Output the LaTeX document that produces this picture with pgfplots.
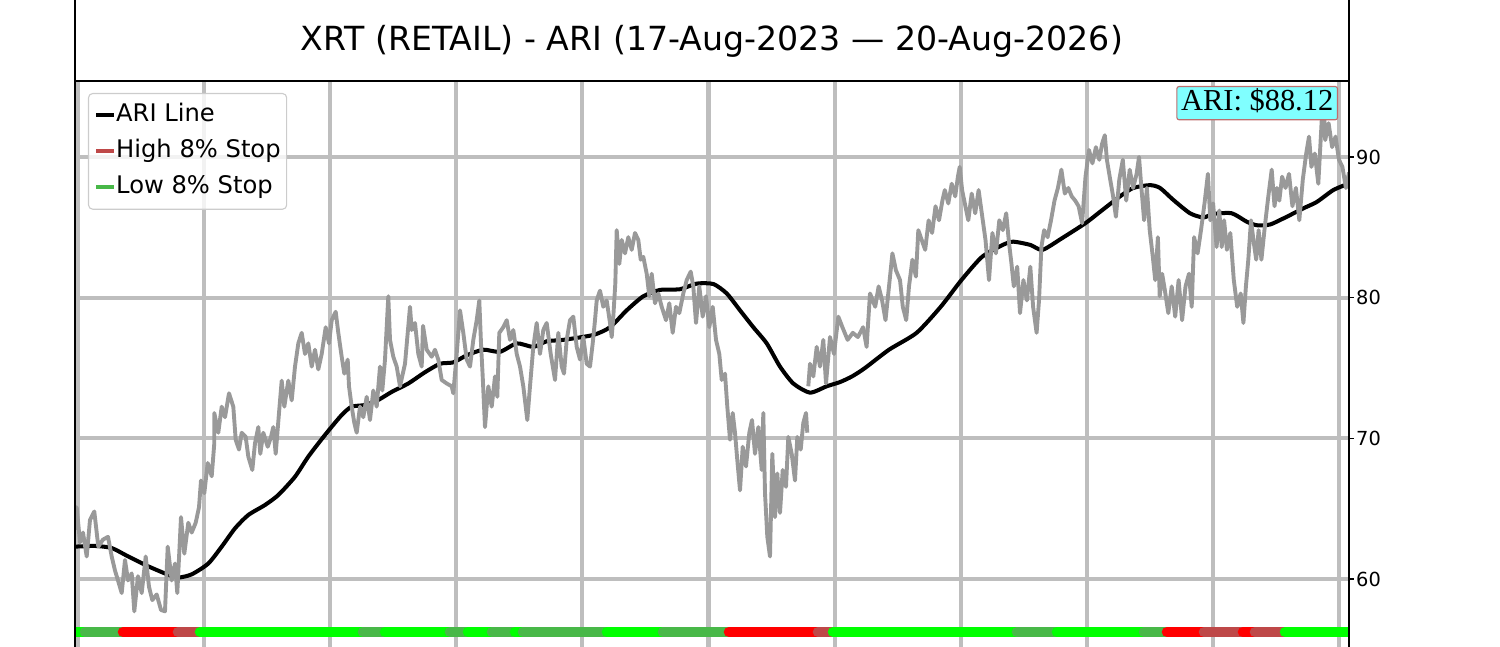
\documentclass[border=0pt]{standalone}
\usepackage{fontspec}
\setmainfont{DejaVu Sans}
\newfontfamily\serifnum{Liberation Serif}
\usepackage{pgfplots}
\pgfplotsset{compat=1.18}
\definecolor{medgreen}{RGB}{72,184,72}
\definecolor{brownred}{RGB}{190,72,72}
\definecolor{limec}{RGB}{0,255,0}
\definecolor{redc}{RGB}{255,0,0}
\definecolor{pricegray}{RGB}{153,153,153}
\definecolor{gridgray}{RGB}{190,190,190}
\definecolor{legedge}{RGB}{204,204,204}
\definecolor{labfill}{RGB}{128,255,255}
\definecolor{labedge}{RGB}{190,110,110}
\begin{document}
\begin{tikzpicture}
\begin{axis}[
  name=ax,
  at={(0,0)}, anchor=south west,
  scale only axis,
  width=917.28bp, height=414.72bp,
  xmin=75, xmax=1349,
  ymin=54.455, ymax=95.403,
  axis line style={draw=none},
  xtick={78,204.1,330.2,456.3,582.4,708.5,834.6,960.7,1086.8,1212.9,1339},
  xticklabels={},
  major x tick style={draw=none},
  ytick={60,70,80,90},
  ytick pos=right, yticklabel pos=right,
  tick align=outside,
  major tick length=3.5bp,
  major y tick style={black, line width=1bp},
  /pgf/number format/assume math mode=true,
  yticklabel style={font=\fontsize{14}{16}\selectfont, inner xsep=1.5bp},
  grid=major,
  major grid style={line width=2.9bp, color=gridgray},
  legend style={at={(axis description cs:0.0102,0.9792)}, anchor=north west,
    draw=legedge, line width=0.8bp, rounded corners=3bp, fill=white, fill opacity=0.8, text opacity=1,
    inner xsep=4bp, inner ysep=5.6bp, row sep=5.6bp,
    font=\fontsize{17.5}{20}\selectfont,
    nodes={inner xsep=0.3bp, inner ysep=1.5bp, text height=13.3bp, text depth=4bp}},
  legend cell align=left,
  legend image code/.code={\draw[#1, line width=2.9bp] (0bp,0bp) -- (12.7bp,0bp);},
]
% ARI line
\addplot[black, line width=2.9bp, smooth, tension=0.4] coordinates {
(75,62.3) (95,62.35) (111.7,62.2) (128.3,61.6) (148.3,60.9) (168.3,60.3) (178.3,60.1) (191.7,60.33)
(208.3,61.1) (221.7,62.3) (235,63.6) (248.3,64.55) (265,65.26) (278.3,65.97) (295,67.27) (308.3,68.7)
(325,70.24) (341.7,71.66) (351.7,72.25) (365,72.37) (378.3,72.73) (391.7,73.3) (408.3,73.9) (425,74.7)
(440,75.3) (453.3,75.4) (466.7,75.9) (483.3,76.3) (500,76.15) (516.7,76.75) (533.3,76.5) (546.7,76.9)
(563.3,77.0) (593.3,77.35) (610,77.9) (626.7,79.1) (643.3,80.1) (660,80.55) (680,80.6) (696.7,81.0)
(713.3,80.97) (726.7,80.3) (740,79.1) (753.3,77.9) (766.7,76.75) (780,75.1) (793.3,73.9) (810,73.25)
(826.7,73.7) (840,74.0) (852,74.4) (865,75.0) (889,76.3) (916.6,77.5) (940.7,79.35) (961.4,81.25)
(982,82.9) (1002.8,83.75) (1013.1,83.98) (1030.3,83.75) (1042.4,83.4) (1061.4,84.2) (1085.5,85.3)
(1100,86.1) (1120,87.2) (1133.3,87.8) (1150,88.0) (1160,87.8) (1173.3,86.95) (1190,86.0) (1203.3,85.7)
(1213.3,85.95) (1231.7,86.0) (1246.7,85.4) (1256.7,85.15) (1270,85.2) (1286.7,85.75) (1303.3,86.35)
(1316.7,86.8) (1333.3,87.65) (1349,88.12)
};
\addlegendentry{ARI Line}
\addlegendimage{brownred}
\addlegendentry{High 8\% Stop}
\addlegendimage{medgreen}
\addlegendentry{Low 8\% Stop}
% price
\addplot[forget plot, pricegray, line width=2.8bp, line join=round, unbounded coords=jump] coordinates {
(75,63.5) (76.7,65.1) (80,62.6) (83,63.3) (86.7,61.6) (90,64.2) (94.3,64.8) (98.3,62.3) (103,62.8) (108,63.0)
(111.7,61.6) (115,60.6) (118,59.9) (121.7,59.0) (125,61.35) (128,59.9) (131.7,60.4) (134.3,57.7) (138,60.2)
(141.7,59.0) (145.7,61.6) (149,59.45) (152.3,58.5) (156.7,58.9) (161,57.8) (165,57.7) (167.7,62.3) (171.7,59.9)
(175,61.1) (177.3,59.0) (181,64.4) (184.3,61.8) (188.3,64.0) (191.7,63.3) (195.7,64.0) (199,65.1) (201,67.0)
(204.3,66.1) (207.7,68.25) (211.7,67.3) (214.3,69.65) (214.3,71.8) (218.3,70.4) (221.7,72.25) (225,71.5)
(229,73.2) (233.3,72.25) (235.7,69.9) (239,69.2) (241.7,70.4) (245.7,70.1) (248.3,68.7) (252.3,67.75)
(255,69.65) (258.3,70.8) (260.3,68.9) (263.3,70.4) (267.7,69.4) (271,70.1) (273.3,70.8) (275.7,68.9)
(279,71.8) (281.7,74.1) (284.3,72.25) (288.3,74.1) (291.7,72.7) (295,75.1) (298.3,76.75) (301.7,77.5)
(305,76.0) (308.3,76.75) (311.7,75.1) (315,76.3) (318.3,74.9) (321.7,76.0) (325.7,77.9) (329,76.75)
(331.7,78.4) (335.7,79.0) (338.3,77.5) (341.7,75.8) (344.3,74.6) (347.7,75.6) (349,73.7) (351.7,72.25)
(354.3,71.1) (356.7,70.4) (360,72.25) (363.3,71.5) (366.7,72.95) (370,71.3) (373.3,73.4) (376.7,72.25)
(380,75.1) (382.3,73.4) (385,75.6) (388.3,80.1) (390,77.0) (393.3,75.8) (396.7,75.1) (400,73.7) (405,75.3)
(410,79.35) (411.7,77.7) (415,78.2) (418.3,76.0) (421.7,75.1) (423,78.0) (426.7,76.3) (431.7,75.8)
(435,76.3) (438.3,75.6) (441.7,74.15) (446.7,73.9) (451.7,73.7) (453.3,73.2) (456.7,76.0) (460,79.1)
(463.3,77.5) (466.7,75.6) (470,75.1) (473.3,77.0) (476.7,78.4) (479.3,79.8) (481,76.75) (482.7,74.4)
(485,70.8) (488.3,73.7) (491.7,72.25) (495,74.4) (497.3,72.95) (499.3,77.5) (503.3,77.9) (506.7,78.4)
(510,77.0) (513.3,77.7) (516.7,76.0) (520,75.1) (523.3,73.7) (527.3,71.3) (530,73.7) (533.3,76.5)
(536.7,78.2) (540,76.0) (543.3,77.7) (546.7,78.2) (550.7,76.0) (555,74.15) (558.3,77.5) (561.7,75.1)
(564,74.6) (566.7,77.0) (570,78.4) (573.3,78.65) (576.7,76.5) (580,75.6) (583.3,77.2) (586.7,75.3)
(590,75.1) (592.7,76.75) (595,78.4) (596.7,79.8) (600,80.5) (603.3,79.35) (606.7,79.8) (610,78.2)
(611.7,77.2) (613.3,78.65) (615.3,81.0) (616.7,84.8) (619.3,82.4) (621.7,84.1) (625,83.15) (628.3,84.3)
(631.7,83.4) (635,84.6) (638.3,84.1) (640.7,82.7) (643.3,82.9) (646.7,81.7) (649.3,80.1) (651.7,81.7)
(655,79.6) (658.3,80.3) (661.7,79.35) (666,78.4) (669.3,79.6) (672.7,77.5) (676,79.35) (679.3,78.9)
(683.3,80.3) (686.7,81.25) (690.7,81.85) (693.3,80.8) (696,78.2) (699.3,80.8) (702.7,78.65) (706,80.1)
(709.3,77.9) (712.7,79.35) (716,77.0) (719.3,76.0) (721.7,74.15) (725,74.6) (727.3,72.25) (730,69.9)
(732.7,71.8) (735,70.4) (737.3,68.45) (740,66.3) (742.7,69.4) (746,68.0) (749.3,70.4) (752,71.3)
(755,68.9) (758.3,70.8) (761.7,67.75) (763.3,71.8) (765,66.1) (767.3,63.0) (770,61.6) (772.3,68.9)
(775,64.4) (777.3,67.5) (780,64.7) (782.7,67.75) (786,66.55) (788.3,70.1) (791.7,68.9) (795,67.0)
(797.3,70.1) (800.7,69.2) (803.3,71.1) (806,71.8) (807.3,70.4) (808,nan)
(808.3,73.7) (810,75.3) (813.3,74.4) (816.7,76.5) (820,75.1) (823.3,77.0) (826,73.9) (830,77.2)
(834,76.0) (838.3,78.65) (842.4,77.9) (847.6,77.0) (852.8,77.5) (857.9,77.2) (863.1,77.9) (866.6,76.5)
(870,80.3) (875.2,79.35) (878.6,80.8) (882.1,79.8) (885.5,78.4) (889,80.8) (892.4,83.15) (895.9,81.95)
(900,81.25) (902.8,79.35) (906.2,78.4) (909,80.8) (912.4,82.7) (915.9,81.5) (918.3,84.8) (921.7,84.1)
(925.2,83.4) (928.6,85.5) (932.1,84.6) (935.5,86.5) (939,85.5) (942.4,86.9) (944.8,87.65) (948.3,86.7)
(951.7,88.1) (955.2,87.2) (957.9,88.6) (959.7,89.3) (962.1,87.65) (964.8,86.7) (968.3,85.5) (971.7,87.4)
(975.2,86.0) (978.6,87.65) (981.4,86.2) (985.5,84.1) (989,81.25) (992.4,84.6) (995.9,83.15) (999.3,85.5)
(1002.8,84.8) (1006.2,86.0) (1009,83.9) (1011.4,82.45) (1013.8,80.8) (1017.2,82.2) (1020,78.9)
(1023.4,81.25) (1026.9,79.8) (1030.3,82.2) (1033.1,79.35) (1036.6,77.5) (1039,79.8) (1041.4,83.6)
(1044.1,84.8) (1047.6,84.3) (1051,85.5) (1054.5,86.9) (1057.9,87.8) (1061.4,89.1) (1064.8,87.4)
(1068.3,87.8) (1071.7,87.2) (1075.2,86.9) (1078.6,86.5) (1082.1,85.3) (1085.5,88.6) (1089,90.5)
(1092.4,89.55) (1095.9,90.7) (1099.3,89.8) (1102.1,90.95) (1104.8,91.55) (1106.9,89.8) (1109.7,88.6)
(1113.1,87.2) (1115.9,85.75) (1119.3,88.4) (1122.8,89.8) (1126.2,86.9) (1129.7,89.1) (1133.1,87.8)
(1136.6,88.8) (1139,90.0) (1141.4,87.8) (1144.1,85.5) (1146.9,87.8) (1149.7,84.8) (1152.8,82.9)
(1155.2,81.25) (1157.9,84.3) (1159.7,80.1) (1162.1,81.7) (1164.8,80.55) (1168.3,78.9) (1171.7,80.8)
(1175.2,78.65) (1178.6,81.25) (1182.1,78.4) (1185.5,80.8) (1189,81.7) (1191.7,79.35) (1194.1,84.3)
(1197.6,83.15) (1201,84.8) (1204.5,86.7) (1207.9,88.8) (1210.3,85.5) (1213.1,86.7) (1216.6,83.6)
(1219.3,86.2) (1221.7,83.6) (1224.1,85.5) (1226.9,83.4) (1230.3,84.6) (1233.8,81.25) (1237.2,79.35)
(1240.7,80.3) (1243.4,78.2) (1245.9,80.8) (1248.3,82.7) (1251,85.5) (1253.8,83.9) (1256.2,82.7)
(1258.6,84.8) (1261.4,82.7) (1264.8,85.05) (1268.3,87.2) (1271.7,89.1) (1274.5,86.5) (1276.9,87.8)
(1279.3,86.9) (1282.1,88.6) (1285.5,87.8) (1289,88.8) (1292.4,86.5) (1295.9,87.8) (1299.3,85.5)
(1302.8,88.4) (1306.2,90.25) (1309,91.45) (1311.4,89.3) (1314.8,90.25) (1318.3,88.1) (1321.7,92.6)
(1324,93.1) (1325.2,91.2) (1328.6,92.4) (1332.1,90.7) (1335.5,91.45) (1339,89.8) (1342.4,89.3)
(1345.9,87.8) (1349,88.9)
};
% stop band
\pgfplotsset{band/.style={forget plot, line width=7.6bp, line cap=round}}
\addplot[band, limec] coordinates {(70,56.23) (85,56.23)};
\addplot[band, medgreen] coordinates {(85,56.23) (123,56.23)};
\addplot[band, redc] coordinates {(123,56.23) (178,56.23)};
\addplot[band, brownred] coordinates {(178,56.23) (200,56.23)};
\addplot[band, limec] coordinates {(200,56.23) (363,56.23)};
\addplot[band, medgreen] coordinates {(363,56.23) (385,56.23)};
\addplot[band, limec] coordinates {(385,56.23) (450,56.23)};
\addplot[band, medgreen] coordinates {(450,56.23) (468,56.23)};
\addplot[band, limec] coordinates {(468,56.23) (492,56.23)};
\addplot[band, medgreen] coordinates {(492,56.23) (515,56.23)};
\addplot[band, limec] coordinates {(515,56.23) (523,56.23)};
\addplot[band, medgreen] coordinates {(523,56.23) (607,56.23)};
\addplot[band, limec] coordinates {(607,56.23) (663,56.23)};
\addplot[band, medgreen] coordinates {(663,56.23) (729,56.23)};
\addplot[band, redc] coordinates {(729,56.23) (818,56.23)};
\addplot[band, brownred] coordinates {(818,56.23) (833,56.23)};
\addplot[band, limec] coordinates {(833,56.23) (1017,56.23)};
\addplot[band, medgreen] coordinates {(1017,56.23) (1057,56.23)};
\addplot[band, limec] coordinates {(1057,56.23) (1144,56.23)};
\addplot[band, medgreen] coordinates {(1144,56.23) (1167,56.23)};
\addplot[band, redc] coordinates {(1167,56.23) (1204,56.23)};
\addplot[band, brownred] coordinates {(1204,56.23) (1243,56.23)};
\addplot[band, redc] coordinates {(1243,56.23) (1255,56.23)};
\addplot[band, brownred] coordinates {(1255,56.23) (1285,56.23)};
\addplot[band, limec] coordinates {(1285,56.23) (1360,56.23)};
\end{axis}
% frame and title box
\draw[line width=1.3bp] (0,0) -- (0,480bp);
\draw[line width=1.3bp] (917.28bp,0) -- (917.28bp,480bp);
\draw[line width=1.3bp] (0,414.72bp) -- (917.28bp,414.72bp);
\node[font=\fontsize{24}{28}\selectfont] at (458.64bp,443.5bp) {XRT (RETAIL) - ARI (17-Aug-2023 — 20-Aug-2026)};
\node[anchor=north east, fill=labfill, draw=labedge, line width=0.8bp, rounded corners=1.5bp,
  inner xsep=3bp, inner ysep=2bp, text height=15.6bp, text depth=4.3bp,
  font=\serifnum\fontsize{22}{24}\selectfont] at (909.36bp,411.12bp) {ARI: \$88.12};
\pgfresetboundingbox
\path[use as bounding box] (-54bp,7.2bp) rectangle (1026bp,473.04bp);
\end{tikzpicture}
\end{document}
